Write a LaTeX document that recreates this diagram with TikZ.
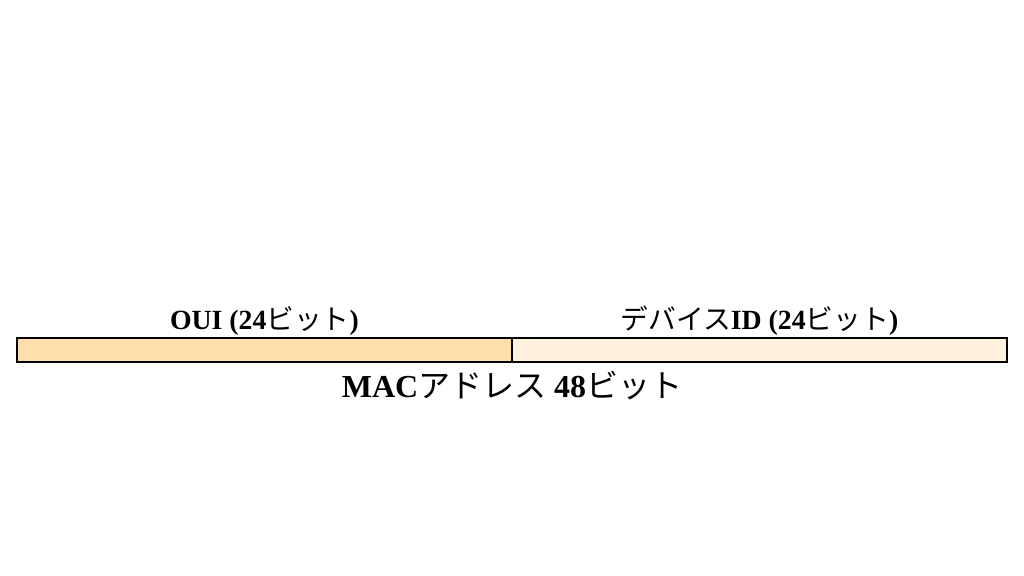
\documentclass[tikz,border=0pt]{standalone}
\usepackage{fontspec}
\setmainfont{Liberation Serif}
\newfontfamily\cjk{Noto Sans CJK JP}
\newcommand{\kana}[1]{{\cjk\mdseries #1}}
\usetikzlibrary{positioning}
\definecolor{ouifill}{RGB}{255,222,173}
\definecolor{devfill}{RGB}{255,240,222}
\begin{document}
\begin{tikzpicture}[
    field/.style={draw, line width=1pt, minimum height=0.48cm, inner sep=0pt, outer sep=0pt},
    fieldlabel/.style={font=\bfseries\fontsize{15.8}{18}\selectfont, inner sep=1pt}]
        \useasboundingbox (0,0) rectangle (20.48,11.52);
        \node[field, fill=ouifill, minimum width=9.9cm] (oui) at (5.29,4.52) {};
        \node[field, fill=devfill, minimum width=9.9cm] (dev) at (15.19,4.52) {};
        \node[fieldlabel, above=0pt of oui] (ouilabel) {OUI (24\kana{ビット})};
        \node[fieldlabel, above=0pt of dev] (devlabel) {\kana{デバイス}ID (24\kana{ビット})};
        \node[font=\bfseries\fontsize{18.2}{22}\selectfont, inner sep=1pt, below=4pt of oui.south east] (mac) {MAC\kana{アドレス} 48\kana{ビット}};
    \end{tikzpicture}
\end{document}
